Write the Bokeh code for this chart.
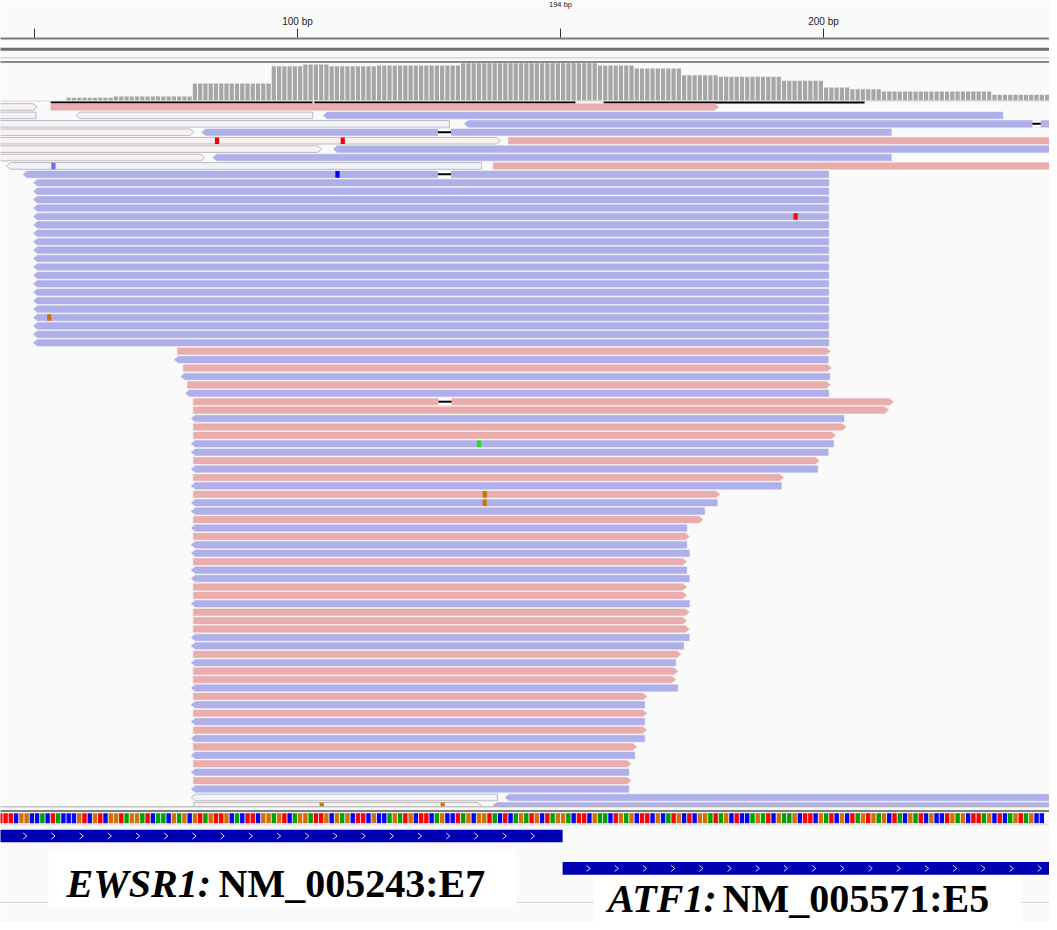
from bokeh.plotting import figure
from bokeh.models import Range1d
from bokeh.embed import file_html
from bokeh.resources import INLINE
from bokeh.core.properties import value

# ---------------- data ----------------
ruler_ticks = [50, 100, 150, 200]
ruler_labels = ["", "100 bp", "", "200 bp"]
span_label = "194 bp"

cov_start = [56, 65, 80, 95, 101, 106, 115, 131, 157, 164, 173, 180, 192, 200, 205, 211, 232]
cov_end = [65, 80, 95, 101, 106, 115, 131, 157, 164, 173, 180, 192, 200, 205, 211, 232, 245]
cov_depth = [6, 9, 38, 76, 80, 76, 78, 83, 78, 71, 56, 53, 44, 29, 25, 20, 13]

# reads: row, start(bp), end(bp), strand, light (low MAPQ)
read_row = [0, 0, 1, 1, 1, 2, 2, 3, 3, 4, 4, 5, 5, 6, 6, 7, 7, 8]
read_start = [42, 53.1, 42, 57.9, 104.9, 42, 131.7, 42, 81.8, 42, 140.1, 42, 106.8, 42, 83.9, 44.7, 137.2, 47.8]
read_end = [50.5, 180.1, 50.3, 102.9, 234.1, 128.9, 246, 80.3, 212.9, 138.6, 246, 104.6, 246, 82.4, 212.9, 135.0, 246, 201.0]
read_strand = ["+", "+", "-", "-", "-", "-", "-", "+", "-", "+", "+", "+", "-", "+", "-", "-", "+", "-"]
read_light = [1, 0, 1, 1, 0, 1, 0, 1, 0, 1, 0, 1, 0, 1, 0, 1, 0, 0]

block_rows = list(range(9, 29))          # uniform reverse reads
block_start = 49.8
block_end = 201.0

lower_rows = list(range(29, 82))
lower_strand = ["+", "-", "+", "-", "+", "-", "+", "+", "-", "+", "+", "-", "-", "+", "-", "+", "-", "+", "-",
                "-", "+", "-", "+", "-", "-", "+", "-", "-", "+", "+", "-", "+", "+", "+", "-", "-", "+",
                "-", "+", "+", "-", "+", "-", "+", "-", "+", "-", "+", "-", "+", "-", "+", "-"]
lower_start = [77.2, 76.6, 78.3, 77.8, 79.1, 78.7, 80.2, 80.2, 79.8, 80.2, 80.2, 79.8, 79.8, 80.2, 79.8, 80.2,
               79.8, 80.2, 79.8, 79.8, 80.2, 79.8, 80.2, 79.8, 79.8, 80.2, 79.8, 79.8, 80.2, 80.2, 79.8, 80.2,
               80.2, 80.2, 79.8, 79.8, 80.2, 79.8, 80.2, 80.2, 79.8, 80.2, 79.8, 80.2, 79.8, 80.2, 79.8, 80.2,
               79.8, 80.2, 79.8, 80.2, 79.8]
lower_end = [201.3, 200.9, 201.5, 201.2, 201.3, 201.0, 213.3, 212.4, 203.9, 204.3, 202.3, 201.9, 200.9, 199.2,
             198.9, 192.4, 192.0, 180.3, 179.8, 177.4, 177.1, 174.0, 174.5, 174.0, 174.5, 174.0, 174.0, 174.5,
             174.0, 174.0, 174.5, 174.5, 174.0, 174.5, 174.5, 173.4, 172.9, 171.9, 172.3, 171.9, 172.3, 166.4,
             166.0, 166.4, 166.0, 166.4, 166.0, 164.5, 164.1, 163.4, 163.0, 163.4, 163.0]

tail_row = [82, 82, 83, 83]
tail_start = [79.8, 139.5, 80.3, 137.1]
tail_end = [138.0, 246, 135.0, 246]
tail_strand = ["-", "-", "+", "-"]
tail_light = [1, 0, 1, 0]

del_row = [2, 3, 8, 35]
del_start = [239.7, 126.7, 126.7, 126.8]
del_end = [241.3, 129.2, 129.2, 129.3]

mm_row = [4, 4, 7, 8, 13, 25, 40, 46, 47, 83, 83]
mm_pos = [84.7, 108.6, 53.6, 107.6, 194.7, 52.8, 134.5, 135.6, 135.6, 104.6, 127.6]
mm_color = ["#ff0000", "#ff0000", "#6a6aff", "#0000ff", "#ff0000", "#d17105", "#22dd22", "#d17105", "#d17105",
            "#d17105", "#d17105"]

edge_start = [53.1, 103.2, 158.2]
edge_end = [102.85, 152.85, 207.8]

ref_seq_start = 43
ref_seq = ("TTTCGGCCACTACCCGTCGTCGGTAGGATCAACGAGCGTAGTTGCACTTCGGAGTCAGGATTGCGAGCTTCGCCAGATG"
           "CTTCAGCCTAGCGGTACTCAGATGCTAGGACTTCGAACTGAGCTTCGCATGCTCGGATAGCTCCAGATCGAAGCTTCG"
           "ATCGCTAGTGAGCTACGATCGCCTGAGCTTAGCTCAGTAGCC")

gene1_start, gene1_end = 42, 150.4
gene2_start, gene2_end = 150.4, 246
gene1_label_it, gene1_label = "EWSR1:", "NM_005243:E7"
gene2_label_it, gene2_label = "ATF1:", "NM_005571:E5"

# ---------------- styling constants ----------------
PINK = "#e9adad"
BLUE = "#afafe9"
LPINK = "#f9f1f1"
LBLUE = "#f1f1f9"
BG = "#fafafa"
ROW0 = 106.5
PITCH = 8.42
RH = 6.6
ARROW = 0.75
base_col = {"A": "#00a000", "C": "#0000ff", "G": "#d17105", "T": "#ff0000"}

X0 = 100 - 297 / 5.26
p = figure(width=1049, height=922, output_backend="svg", toolbar_location=None,
           x_range=Range1d(X0, X0 + 1049 / 5.26), y_range=Range1d(922, 0),
           min_border=0, min_border_left=0, min_border_right=0, min_border_top=0, min_border_bottom=0)
p.axis.visible = False
p.grid.visible = False
p.outline_line_color = None
p.background_fill_color = BG
p.border_fill_color = BG

# ruler
p.segment(x0=ruler_ticks, x1=ruler_ticks, y0=[28] * 4, y1=[38] * 4, line_color="#333333", line_width=1)
p.text(x=ruler_ticks, y=[20.5] * 4, text=ruler_labels, text_align="center", text_baseline="middle",
       text_font=value("Liberation Sans"), text_font_size="10px", text_color="#222222")
p.text(x=[150], y=[4], text=[span_label], text_align="center", text_baseline="middle",
       text_font=value("Liberation Sans"), text_font_size="7.5px", text_color="#222222")
p.segment(x0=[40], x1=[250], y0=[38], y1=[38], line_color="#7a7a7a", line_width=2)
p.segment(x0=[40], x1=[250], y0=[48.8], y1=[48.8], line_color="#6e6e6e", line_width=3)
p.segment(x0=[40], x1=[250], y0=[57.3], y1=[57.3], line_color="#c4c4c4", line_width=1)
p.segment(x0=[40], x1=[250], y0=[61.5], y1=[61.5], line_color="#8a8a8a", line_width=2)

# coverage
cx, ctop = [], []
for s, e, d in zip(cov_start, cov_end, cov_depth):
    for b in range(s, e):
        cx.append(b + 0.5)
        ctop.append(100 - d * 0.45)
p.vbar(x=cx, bottom=100, top=ctop, width=0.8, fill_color="#a6a6a6", line_color=None)
p.segment(x0=[40], x1=[250], y0=[100.6], y1=[100.6], line_color="#d6d6d6", line_width=1)

# black edge lines above first row
p.segment(x0=edge_start, x1=edge_end, y0=[102] * 3, y1=[102] * 3, line_color="#000000", line_width=2)


def ry(r):
    return ROW0 + PITCH * r


def read_poly(s, e, strand, r):
    yc = ry(r)
    t, b = yc - RH / 2, yc + RH / 2
    if strand == "+":
        return [s, e - ARROW, e, e - ARROW, s], [t, t, yc, b, b]
    return [s + ARROW, e, e, s + ARROW, s], [t, t, b, b, yc]


rows = read_row + block_rows + lower_rows + tail_row
starts = read_start + [block_start] * len(block_rows) + lower_start + tail_start
ends = read_end + [block_end] * len(block_rows) + lower_end + tail_end
strands = read_strand + ["-"] * len(block_rows) + lower_strand + tail_strand
lights = read_light + [0] * len(block_rows) + [0] * len(lower_rows) + tail_light

xs_n, ys_n, fc_n = [], [], []
xs_l, ys_l, fc_l = [], [], []
for r, s, e, st, lt in zip(rows, starts, ends, strands, lights):
    xx, yy = read_poly(s, e, st, r)
    if lt:
        xs_l.append(xx); ys_l.append(yy); fc_l.append(LPINK if st == "+" else LBLUE)
    else:
        xs_n.append(xx); ys_n.append(yy); fc_n.append(PINK if st == "+" else BLUE)
p.patches(xs=xs_n, ys=ys_n, fill_color=fc_n, line_color=fc_n, line_width=0.5)
p.patches(xs=xs_l, ys=ys_l, fill_color=fc_l, line_color="#bcbcbc", line_width=1)

# deletions
p.quad(left=del_start, right=del_end, top=[ry(r) - RH / 2 - 0.3 for r in del_row],
       bottom=[ry(r) + RH / 2 + 0.3 for r in del_row], fill_color="#ffffff", line_color=None)
p.segment(x0=del_start, x1=del_end, y0=[ry(r) for r in del_row], y1=[ry(r) for r in del_row],
          line_color="#000000", line_width=2)

# mismatches
p.quad(left=[m - 0.4 for m in mm_pos], right=[m + 0.4 for m in mm_pos],
       top=[ry(r) - RH / 2 for r in mm_row], bottom=[ry(r) + RH / 2 for r in mm_row],
       fill_color=mm_color, line_color=None)

# separator under alignments
p.quad(left=[40], right=[250], top=[806], bottom=[930], fill_color=BG, line_color=None)
p.segment(x0=[40], x1=[250], y0=[806.3], y1=[806.3], line_color="#a8a8a8", line_width=1)
p.segment(x0=[40], x1=[250], y0=[810.5], y1=[810.5], line_color="#7e7e7e", line_width=2)

# reference sequence
sx = [ref_seq_start + i + 0.5 for i in range(len(ref_seq))]
sc = [base_col[c] for c in ref_seq]
p.quad(left=[x - 0.42 for x in sx], right=[x + 0.42 for x in sx], top=[812.7] * len(sx),
       bottom=[822.7] * len(sx), fill_color=sc, line_color=None)
p.segment(x0=[40], x1=[250], y0=[824.3], y1=[824.3], line_color="#dadada", line_width=1)

# genes
GENE = "#0000b2"
p.quad(left=[gene1_start], right=[gene1_end], top=[829.3], bottom=[841.7], fill_color=GENE, line_color=None)
p.quad(left=[gene2_start], right=[gene2_end], top=[861.5], bottom=[874.3], fill_color=GENE, line_color=None)
step = 28.2 / 5.26
chev_x, chev_y = [], []
for g0, g1, gy, first in [(gene1_start, gene1_end, 835.5, 48.2), (gene2_start, gene2_end, 867.9, 155.3)]:
    x = first
    while x < g1 - 0.5:
        chev_x.append([x - 0.35, x + 0.35, x - 0.35])
        chev_y.append([gy - 3, gy, gy + 3])
        x += step
p.multi_line(xs=chev_x, ys=chev_y, line_color="#dcdcff", line_width=1)

# track separator and label boxes
p.segment(x0=[40], x1=[250], y0=[902], y1=[902], line_color="#d4d4de", line_width=1)
p.quad(left=[52.66, 156.3], right=[141.6, 237.6], top=[849, 875], bottom=[905, 930],
       fill_color="#ffffff", line_color=None)
p.text(x=[56.1, 159.0], y=[883, 898], text=[gene1_label_it, gene2_label_it], text_align="left",
       text_baseline="middle", text_font=value("Liberation Serif"), text_font_style="bold italic",
       text_font_size="40px", text_color="#000000")
p.text(x=[85.0, 180.8], y=[883, 898], text=[gene1_label, gene2_label], text_align="left",
       text_baseline="middle", text_font=value("Liberation Serif"), text_font_style="bold",
       text_font_size="40px", text_color="#000000")

open("out.html", "w").write(file_html(p, INLINE))
